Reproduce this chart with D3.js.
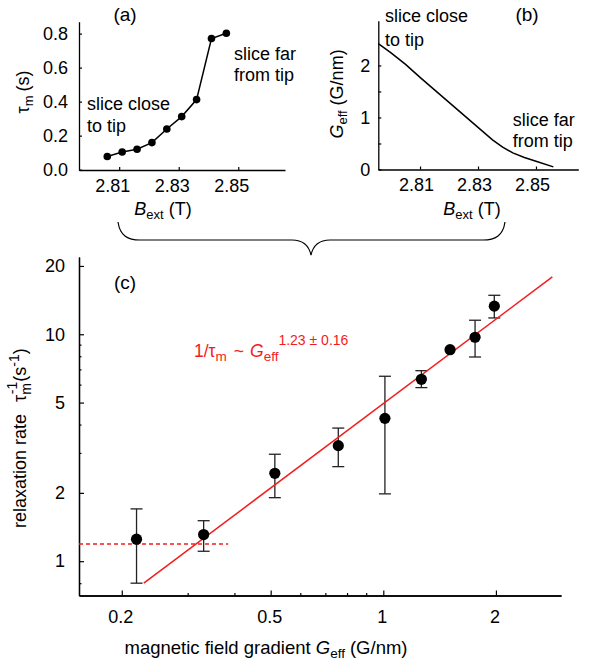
<!DOCTYPE html>
<html><head><meta charset="utf-8">
<script src="https://cdn.jsdelivr.net/npm/d3@7/dist/d3.min.js"></script>
<style>
body{margin:0;background:#fff;}
svg{display:block;font-family:"Liberation Sans",Arial,Helvetica,sans-serif;}
</style></head><body>
<svg id="chart" width="590" height="664"></svg>
<script>
// ---------- Panel (a): tau_m vs B_ext ----------
const bextA = [2.806, 2.811, 2.816, 2.821, 2.826, 2.831, 2.836, 2.841, 2.846];
const tauM  = [0.077, 0.104, 0.120, 0.159, 0.239, 0.312, 0.412, 0.771, 0.802];
const tauTicks = [0, 0.2, 0.4, 0.6, 0.8];
const bextTicks = [2.81, 2.83, 2.85];

// ---------- Panel (b): G_eff vs B_ext ----------
const bextB = [2.7956, 2.800, 2.805, 2.810, 2.815, 2.820, 2.825, 2.830, 2.835, 2.8385, 2.842, 2.846, 2.850, 2.856];
const geffB = [2.42, 2.24, 2.02, 1.77, 1.53, 1.29, 1.05, 0.81, 0.57, 0.43, 0.32, 0.23, 0.16, 0.05];
const geffTicks = [0, 0.5, 1, 1.5, 2];
const geffTickLabels = ["0", "", "1", "", "2"];

// ---------- Panel (c): relaxation rate vs gradient ----------
const gradient = [0.219, 0.331, 0.513, 0.758, 1.01, 1.264, 1.508, 1.759, 1.98];
const rate     = [1.25, 1.31, 2.44, 3.23, 4.26, 6.33, 8.55, 9.70, 13.3];
const rateLow  = [0.80, 1.106, 1.905, 2.61, 1.98, 5.82, null, 7.94, 11.8];
const rateHigh = [1.70, 1.508, 2.96, 3.86, 6.53, 6.91, null, 11.53, 14.85];
const fitLineG = [0.229, 2.83];
const fitLineR = [0.80, 17.9];
const floorG = [0.1537, 0.385];
const floorR = [1.19, 1.19];
const gMajorTicks = [0.2, 0.5, 1, 2];
const gMinorTicks = [0.3, 0.4, 0.6, 0.7, 0.8, 0.9];
const rMajorTicks = [1, 2, 5, 10, 20];
const rMinorTicks = [0.8, 3, 4, 6, 7, 8, 9];

const svg = d3.select("#chart");
const FS = 18;
const SUB = 13;
const RED = "#f21c1c";

function styleAxis(g, fs){
  g.select(".domain").attr("stroke","#000").attr("stroke-width",1.3);
  g.selectAll(".tick line").attr("stroke","#000").attr("stroke-width",1.2);
  g.selectAll(".tick text").attr("fill","#000").style("font-size",fs+"px")
    .style("font-family",'"Liberation Sans",Arial,sans-serif');
}

// ===== Panel (a) =====
const xa = d3.scaleLinear().domain([2.7965, 2.8657]).range([79, 285]);
const ya = d3.scaleLinear().domain([-0.002, 0.87]).range([170, 21.7]);
const gA = svg.append("g");
gA.append("g").attr("transform","translate(0,170)")
  .call(d3.axisBottom(xa).tickValues(bextTicks).tickFormat(d3.format(".2f")).tickSizeInner(-3).tickSizeOuter(0).tickPadding(9))
  .call(g=>styleAxis(g,FS))
  .call(g=>g.selectAll(".tick text").attr("dx",-7));
gA.append("g").attr("transform","translate(79,0)")
  .call(d3.axisLeft(ya).tickValues(tauTicks).tickFormat(d3.format(".1f")).tickSizeInner(-3).tickSizeOuter(0).tickPadding(11))
  .call(g=>styleAxis(g,FS));
const ptsA = bextA.map((b,i)=>[b,tauM[i]]);
gA.append("path").datum(ptsA)
  .attr("d", d3.line().x(d=>xa(d[0])).y(d=>ya(d[1])))
  .attr("fill","none").attr("stroke","#000").attr("stroke-width",1.5);
gA.selectAll("circle").data(ptsA).join("circle")
  .attr("cx",d=>xa(d[0])).attr("cy",d=>ya(d[1])).attr("r",3.8).attr("fill","#000");
gA.append("text").attr("x",125).attr("y",21).attr("text-anchor","middle").style("font-size","19px").text("(a)");
gA.append("text").attr("x",87).attr("y",110).style("font-size",FS+"px").text("slice close");
gA.append("text").attr("x",87).attr("y",132).style("font-size",FS+"px").text("to tip");
gA.append("text").attr("x",234).attr("y",60).style("font-size",FS+"px").text("slice far");
gA.append("text").attr("x",234).attr("y",81).style("font-size",FS+"px").text("from tip");
{
  const t = gA.append("text").attr("transform","translate(29,92) rotate(-90)").attr("text-anchor","middle").style("font-size",FS+"px");
  t.append("tspan").text("τ");
  t.append("tspan").attr("dy",4).style("font-size",SUB+"px").text("m");
  t.append("tspan").attr("dy",-4).attr("dx",4).text("(s)");
}
{
  const t = gA.append("text").attr("x",163).attr("y",215).attr("text-anchor","middle").style("font-size",FS+"px");
  t.append("tspan").style("font-style","italic").text("B");
  t.append("tspan").attr("dy",4).style("font-size",SUB+"px").text("ext");
  t.append("tspan").attr("dy",-4).attr("dx",5).text("(T)");
}

// ===== Panel (b) =====
const xb = d3.scaleLinear().domain([2.7956, 2.8646]).range([378.3, 578.3]);
const yb = d3.scaleLinear().domain([0, 2.86]).range([169.5, 20.7]);
const gB = svg.append("g");
gB.append("g").attr("transform","translate(0,169.5)")
  .call(d3.axisBottom(xb).tickValues(bextTicks).tickFormat(d3.format(".2f")).tickSizeInner(-3).tickSizeOuter(0).tickPadding(9))
  .call(g=>styleAxis(g,FS))
  .call(g=>g.selectAll(".tick text").attr("dx",-4));
gB.append("g").attr("transform","translate(378.3,0)")
  .call(d3.axisLeft(yb).tickValues(geffTicks).tickFormat((d,i)=>geffTickLabels[i]).tickSizeInner(-3).tickSizeOuter(0).tickPadding(8))
  .call(g=>styleAxis(g,FS));
gB.append("path").datum(bextB.map((b,i)=>[b,geffB[i]]))
  .attr("d", d3.line().x(d=>xb(d[0])).y(d=>yb(d[1])))
  .attr("fill","none").attr("stroke","#000").attr("stroke-width",1.5);
gB.append("text").attr("x",527).attr("y",21).attr("text-anchor","middle").style("font-size","19px").text("(b)");
gB.append("text").attr("x",385).attr("y",22).style("font-size",FS+"px").text("slice close");
gB.append("text").attr("x",385).attr("y",46).style("font-size",FS+"px").text("to tip");
gB.append("text").attr("x",512.7).attr("y",126).style("font-size",FS+"px").text("slice far");
gB.append("text").attr("x",512.7).attr("y",147).style("font-size",FS+"px").text("from tip");
{
  const t = gB.append("text").attr("transform","translate(343,94) rotate(-90)").attr("text-anchor","middle").style("font-size",FS+"px");
  t.append("tspan").style("font-style","italic").text("G");
  t.append("tspan").attr("dy",4).style("font-size",SUB+"px").text("eff");
  t.append("tspan").attr("dy",-4).attr("dx",5).text("(G/nm)");
}
{
  const t = gB.append("text").attr("x",472).attr("y",215).attr("text-anchor","middle").style("font-size",FS+"px");
  t.append("tspan").style("font-style","italic").text("B");
  t.append("tspan").attr("dy",4).style("font-size",SUB+"px").text("ext");
  t.append("tspan").attr("dy",-4).attr("dx",5).text("(T)");
}

// ===== Brace =====
svg.append("path")
  .attr("d","M118,222 C120,236 128,240 140,240 L292,240 C304,240 309,246 311,255 C313,246 318,240 330,240 L483,240 C495,240 503,236 505,222")
  .attr("fill","none").attr("stroke","#000").attr("stroke-width",1.2);

// ===== Panel (c) =====
const xc = d3.scaleLog().domain([0.1537, 2.985]).range([79, 561]);
const yc = d3.scaleLog().domain([0.706, 21.9]).range([595.5, 257]);
const gC = svg.append("g");
gC.append("g").attr("transform","translate(0,595.5)")
  .call(d3.axisBottom(xc).tickValues(gMinorTicks).tickFormat("").tickSizeInner(-2.5).tickSizeOuter(0))
  .call(g=>styleAxis(g,18));
gC.append("g").attr("transform","translate(0,595.5)")
  .call(d3.axisBottom(xc).tickValues(gMajorTicks).tickFormat(d=>String(d)).tickSizeInner(-5).tickSizeOuter(0).tickPadding(15))
  .call(g=>styleAxis(g,18))
  .call(g=>g.selectAll(".tick text").attr("dx",-1.5));
gC.append("g").attr("transform","translate(79,0)")
  .call(d3.axisLeft(yc).tickValues(rMinorTicks).tickFormat("").tickSizeInner(-2.5).tickSizeOuter(0))
  .call(g=>styleAxis(g,18));
gC.append("g").attr("transform","translate(79,0)")
  .call(d3.axisLeft(yc).tickValues(rMajorTicks).tickFormat(d=>String(d)).tickSizeInner(-5).tickSizeOuter(0).tickPadding(14))
  .call(g=>styleAxis(g,18));

// dashed floor line
gC.append("path").datum(floorG.map((g,i)=>[g,floorR[i]]))
  .attr("d", d3.line().x(d=>xc(d[0])).y(d=>yc(d[1])))
  .attr("stroke",RED).attr("stroke-width",1.5).attr("stroke-dasharray","4,3").attr("fill","none");
// error bars
const ptsC = gradient.map((g,i)=>({g, r:rate[i], lo:rateLow[i], hi:rateHigh[i]}));
const eb = gC.append("g").attr("stroke","#222").attr("stroke-width",1.3);
ptsC.filter(d=>d.lo!==null).forEach(d=>{
  const x = xc(d.g);
  eb.append("line").attr("x1",x).attr("x2",x).attr("y1",yc(d.lo)).attr("y2",yc(d.hi));
  eb.append("line").attr("x1",x-6).attr("x2",x+6).attr("y1",yc(d.lo)).attr("y2",yc(d.lo));
  eb.append("line").attr("x1",x-6).attr("x2",x+6).attr("y1",yc(d.hi)).attr("y2",yc(d.hi));
});
// fit line
gC.append("path").datum(fitLineG.map((g,i)=>[g,fitLineR[i]]))
  .attr("d", d3.line().x(d=>xc(d[0])).y(d=>yc(d[1])))
  .attr("stroke",RED).attr("stroke-width",1.5).attr("fill","none");
// points
gC.selectAll("circle").data(ptsC).join("circle")
  .attr("cx",d=>xc(d.g)).attr("cy",d=>yc(d.r)).attr("r",5.6).attr("fill","#000");

gC.append("text").attr("x",125).attr("y",289).attr("text-anchor","middle").style("font-size","19px").text("(c)");
{
  const t = gC.append("text").attr("x",194).attr("y",357).attr("fill",RED).style("font-size","17.5px");
  t.append("tspan").text("1/τ");
  t.append("tspan").attr("dy",4).style("font-size","13.5px").text("m");
  t.append("tspan").attr("dy",-4).attr("dx",7).text("~");
  t.append("tspan").attr("dx",6).style("font-style","italic").text("G");
  t.append("tspan").attr("dy",4).style("font-size","13.5px").text("eff");
  t.append("tspan").attr("dy",-16).style("font-size","14px").text("1.23 ± 0.16");
}
{
  const t = gC.append("text").attr("transform","translate(25.5,528) rotate(-90)").attr("text-anchor","start").style("font-size","18px");
  t.append("tspan").text("relaxation rate");
  t.append("tspan").attr("dx",12).text("τ");
  t.append("tspan").attr("dy",5).style("font-size","14px").text("m");
  t.append("tspan").attr("dx",-11).attr("dy",-14).style("font-size","14px").text("-1");
  t.append("tspan").attr("dy",9).text("(s");
  t.append("tspan").attr("dy",-7).style("font-size","14px").text("-1");
  t.append("tspan").attr("dy",7).text(")");
}
{
  const t = gC.append("text").attr("x",266).attr("y",654).attr("text-anchor","middle").style("font-size","18.5px");
  t.append("tspan").text("magnetic field gradient ");
  t.append("tspan").style("font-style","italic").text("G");
  t.append("tspan").attr("dy",4).style("font-size","13.5px").text("eff");
  t.append("tspan").attr("dy",-4).attr("dx",5).text("(G/nm)");
}
</script>
</body></html>
